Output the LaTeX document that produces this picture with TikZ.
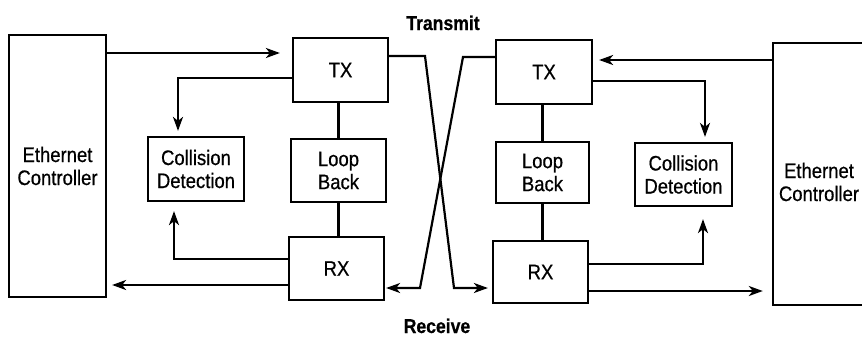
\documentclass[tikz,border=0pt]{standalone}
\usepackage{fontspec}
\setmainfont{Liberation Sans}[FakeStretch=0.88,FakeBold=0.6]
\usetikzlibrary{arrows.meta,calc}
\begin{document}
\begin{tikzpicture}[x=1pt,y=-1pt,
  box/.style={draw, line width=2.2pt, inner sep=0pt, align=center, font=\fontsize{21}{23}\selectfont},
  lbl/.style={align=center, inner sep=0pt, font=\fontsize{21}{23}\selectfont},
  ttl/.style={anchor=base, inner sep=0pt, font=\fontsize{20}{22}\selectfont\bfseries},
  line/.style={line width=2.2pt},
  arr/.style={line width=2.2pt, -{Stealth[length=14pt,width=10pt,inset=4pt]}}]
\useasboundingbox (0,0) rectangle (862,338);
\fill[white] (0,0) rectangle (862,338);
% left side
\node[box, minimum width=97pt, minimum height=262pt] (EC1) at (57.5,166) {Ethernet\\Controller};
\node[box, minimum width=95pt, minimum height=64pt] (TX1) at (340.5,70) {TX};
\node[box, minimum width=95pt, minimum height=63pt] (LB1) at (338.5,170.5) {Loop\\Back};
\node[box, minimum width=95pt, minimum height=63pt] (RX1) at (336.5,268.5) {RX};
\node[box, minimum width=96pt, minimum height=64pt] (CD1) at (196,169) {Collision\\Detection};
% right side
\node[box, minimum width=96pt, minimum height=64pt] (TX2) at (544,72) {TX};
\node[box, minimum width=93pt, minimum height=61pt] (LB2) at (542.5,172.5) {Loop\\Back};
\node[box, minimum width=95pt, minimum height=62pt] (RX2) at (540.5,272) {RX};
\node[box, minimum width=97pt, minimum height=63pt] (CD2) at (683.5,174.5) {Collision\\Detection};
\node[draw=none, inner sep=0pt, minimum width=89pt, minimum height=262pt] (EC2) at (817.5,174) {};
\draw[line] (EC2.north east) -- (EC2.north west) -- (EC2.south west) -- (EC2.south east);
\node[lbl] (EC2t) at (819,182) {Ethernet\\Controller};
% titles
\node[ttl] (tr) at (443,30) {Transmit};
\node[ttl] (rc) at (437,333) {Receive};
% coordinates
\coordinate (p1) at (0,53);
\coordinate (p2) at (178,78);
\coordinate (p3) at (174,259);
\coordinate (p4) at (0,285);
\coordinate (q1) at (0,60);
\coordinate (q2) at (705,81);
\coordinate (q3) at (703,264);
\coordinate (q4) at (0,291);
\coordinate (k1) at (425,56);
\coordinate (k2) at (454,288);
\coordinate (k3) at (463,57);
\coordinate (k4) at (420,288);
% left connectors
\draw[arr, shorten >=12pt] (EC1.east |- p1) -- (TX1.west |- p1);
\draw[arr, shorten >=5pt] (TX1.west |- p2) -- (p2) -- (CD1.north -| p2);
\draw[arr, shorten >=9pt] (RX1.west |- p3) -- (p3) -- (CD1.south -| p3);
\draw[arr, shorten >=5pt] (RX1.west |- p4) -- (EC1.east |- p4);
\draw[line] (LB1.north |- TX1.south) -- (LB1.north);
\draw[line] (LB1.south) -- (LB1.south |- RX1.north);
% crossing
\draw[arr, shorten >=4pt] (TX1.east |- k1) -- (k1) -- (k2) -- (RX2.west |- k2);
\draw[arr, shorten >=1pt] (TX2.west |- k3) -- (k3) -- (k4) -- (RX1.east |- k4);
% right connectors
\draw[arr, shorten >=6pt] (EC2.west |- q1) -- (TX2.east |- q1);
\draw[arr, shorten >=5pt] (TX2.east |- q2) -- (q2) -- (CD2.north -| q2);
\draw[arr, shorten >=12pt] (RX2.east |- q3) -- (q3) -- (CD2.south -| q3);
\draw[arr, shorten >=10pt] (RX2.east |- q4) -- (EC2.west |- q4);
\draw[line] (LB2.north |- TX2.south) -- (LB2.north);
\draw[line] (LB2.south) -- (LB2.south |- RX2.north);
\end{tikzpicture}
\end{document}
